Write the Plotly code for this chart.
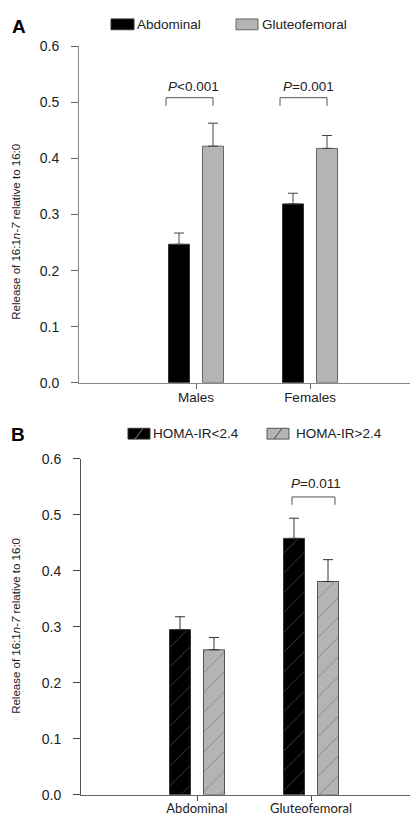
import plotly.graph_objects as go

# ---------------- data ----------------
cats_a = ["Males", "Females"]
abdominal = [0.247, 0.319]
abdominal_err = [0.020, 0.019]
gluteo = [0.422, 0.418]
gluteo_err = [0.041, 0.023]
series_a = ["Abdominal", "Gluteofemoral"]

cats_b = ["Abdominal", "Gluteofemoral"]
homa_low = [0.295, 0.458]
homa_low_err = [0.023, 0.036]
homa_high = [0.259, 0.381]
homa_high_err = [0.022, 0.039]
series_b = ["HOMA-IR<2.4", "HOMA-IR>2.4"]

yticks = [0.0, 0.1, 0.2, 0.3, 0.4, 0.5, 0.6]
ytick_text = ["0.0", "0.1", "0.2", "0.3", "0.4", "0.5", "0.6"]

# significance brackets: (category index, x left off, x right off, top y, end y, label)
brackets_a = [(0, -0.263, 0.149, 0.5085, 0.494, "<i>P</i>&lt;0.001", -0.018, 0.528),
              (1, -0.263, 0.149, 0.5085, 0.494, "<i>P</i>=0.001", -0.010, 0.528)]
brackets_b = [(1, -0.167, 0.21, 0.532, 0.518, "<i>P</i>=0.011", 0.044, 0.556)]

W, H = 418, 819
FONT = "Liberation Sans, Arial, sans-serif"
GRAY = "#b4b4b4"

BW = 21 / 114
OFF1 = -27.5 / 114
OFF2 = 6.5 / 114

fig = go.Figure()

def err(arr, color):
    return dict(type="data", array=arr, arrayminus=[0] * len(arr), symmetric=False,
                color=color, thickness=1, width=5)

# ---- Panel A ----
xa = list(range(len(cats_a)))
fig.add_trace(go.Bar(x=xa, y=abdominal, width=BW, offset=OFF1, name=series_a[0],
                     marker=dict(color="black", line=dict(color="#333", width=1)),
                     error_y=err(abdominal_err, "#444"), xaxis="x", yaxis="y", showlegend=False))
fig.add_trace(go.Bar(x=xa, y=gluteo, width=BW, offset=OFF2, name=series_a[1],
                     marker=dict(color=GRAY, line=dict(color="#666", width=1)),
                     error_y=err(gluteo_err, "#444"), xaxis="x", yaxis="y", showlegend=False))

# ---- Panel B ----
xb = list(range(len(cats_b)))
fig.add_trace(go.Bar(x=xb, y=homa_low, width=BW, offset=OFF1, name=series_b[0],
                     marker=dict(color="black", line=dict(color="#333", width=1),
                                 pattern=dict(shape="/", fgcolor="#8a8a8a", bgcolor="black",
                                              size=14, solidity=0.06)),
                     error_y=err(homa_low_err, "#333"), xaxis="x2", yaxis="y2", showlegend=False))
fig.add_trace(go.Bar(x=xb, y=homa_high, width=BW, offset=OFF2, name=series_b[1],
                     marker=dict(color=GRAY, line=dict(color="#555", width=1),
                                 pattern=dict(shape="/", fgcolor="#444", bgcolor=GRAY,
                                              size=14, solidity=0.06)),
                     error_y=err(homa_high_err, "#333"), xaxis="x2", yaxis="y2", showlegend=False))

annotations = []

def add_brackets(brs, xax, yax):
    for (c, l, r, top, end, label, tx, ty) in brs:
        fig.add_trace(go.Scatter(x=[c + l, c + l, c + r, c + r], y=[end, top, top, end],
                                 mode="lines", line=dict(color="#555", width=1),
                                 xaxis=xax, yaxis=yax, showlegend=False, hoverinfo="skip"))
        annotations.append(dict(x=c + tx, y=ty, xref=xax, yref=yax, text=label, showarrow=False,
                                font=dict(family=FONT, size=13.5, color="#222"),
                                xanchor="center", yanchor="middle"))

add_brackets(brackets_a, "x", "y")
add_brackets(brackets_b, "x2", "y2")

# y axis titles
ytitle = "Release of 16:1<i>n-7</i> relative to 16:0"
annotations.append(dict(x=8 / W, y=1 - 220 / H, xref="paper", yref="paper", text=ytitle,
                        textangle=-90, showarrow=False, font=dict(family=FONT, size=11.5, color="#222"),
                        xanchor="center", yanchor="middle"))
annotations.append(dict(x=8 / W, y=1 - 622 / H, xref="paper", yref="paper", text=ytitle,
                        textangle=-90, showarrow=False, font=dict(family=FONT, size=11.5, color="#222"),
                        xanchor="center", yanchor="middle"))

# panel letters
annotations.append(dict(x=2 / W, y=1 - 11 / H, xref="paper", yref="paper", text="<b>A</b>",
                        showarrow=False, font=dict(family=FONT, size=19, color="black"),
                        xanchor="left", yanchor="middle"))
annotations.append(dict(x=1 / W, y=1 - 427 / H, xref="paper", yref="paper", text="<b>B</b>",
                        showarrow=False, font=dict(family=FONT, size=19, color="black"),
                        xanchor="left", yanchor="middle"))

# manual legends
shapes = []
def legend_item(x0, x1, yc, fill, line, text, tx, hatch=None):
    y0, y1 = 1 - (yc - 5.5) / H, 1 - (yc + 5.5) / H
    shapes.append(dict(type="rect", xref="paper", yref="paper", x0=x0 / W, x1=x1 / W,
                       y0=y1, y1=y0, fillcolor=fill, line=dict(color=line, width=1)))
    if hatch:
        shapes.append(dict(type="line", xref="paper", yref="paper", x0=(x0 + 7) / W, x1=(x1 - 7) / W,
                           y0=y1, y1=y0, line=dict(color=hatch, width=1)))
    annotations.append(dict(x=tx / W, y=1 - yc / H, xref="paper", yref="paper", text=text,
                            showarrow=False, font=dict(family=FONT, size=13.5, color="#222"),
                            xanchor="left", yanchor="middle"))

legend_item(103, 126, 8.5, "black", "#333", series_a[0], 127)
legend_item(228, 250, 8.5, GRAY, "#666", series_a[1], 252)
legend_item(120, 142, 426, "black", "#333", series_b[0], 143, hatch="#8a8a8a")
legend_item(259, 281, 426, GRAY, "#555", series_b[1], 286, hatch="#444")

axis_common = dict(showgrid=False, zeroline=False, ticks="outside", showline=True)

fig.update_layout(
    width=W, height=H,
    margin=dict(l=0, r=0, t=0, b=0),
    paper_bgcolor="white", plot_bgcolor="white",
    font=dict(family=FONT, size=13, color="#222"),
    showlegend=False,
    annotations=annotations,
    shapes=shapes,
    xaxis=dict(domain=[71 / W, 1], range=[-(188 - 71) / 114, (418 - 188) / 114],
               tickvals=xa, ticktext=cats_a, ticklen=5, tickcolor="#666", linecolor="#888",
               anchor="y", ticklabelstandoff=-3,
               tickfont=dict(family=FONT, size=13.5, color="#222"), **axis_common),
    yaxis=dict(domain=[1 - 374 / H, 1 - 31 / H], range=[0, 0.6], tickvals=yticks, ticktext=ytick_text,
               ticklen=7, tickcolor="#666", linecolor="#888", anchor="x", ticklabelstandoff=9,
               tickfont=dict(family=FONT, size=14, color="#222"), **axis_common),
    xaxis2=dict(domain=[73 / W, 1], range=[-(189 - 73) / 114, (418 - 189) / 114],
                tickvals=xb, ticktext=cats_b, ticklen=5, tickcolor="#444", linecolor="#666",
                anchor="y2", ticklabelstandoff=-3,
                tickfont=dict(family="Lato, Open Sans, sans-serif", size=13, color="#222"),
                **axis_common),
    yaxis2=dict(domain=[1 - 794.3 / H, 1 - 451.7 / H], range=[0, 0.6], tickvals=yticks, ticktext=ytick_text,
                ticklen=7, tickcolor="#444", linecolor="#555", anchor="x2", ticklabelstandoff=9,
                tickfont=dict(family=FONT, size=14, color="#222"), **axis_common),
)

fig.write_html("out.html")
